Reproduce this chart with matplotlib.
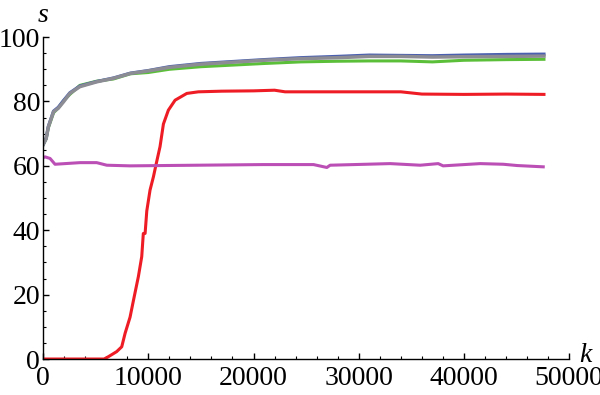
#Program to redraw the s versus k line chart.
import matplotlib
matplotlib.use("Agg")
import matplotlib.pyplot as plt
from matplotlib.ticker import MultipleLocator

#Shared steps for the three upper curves.
k_top = [0, 300, 500, 1000, 1450, 1950, 2550, 3500, 5100, 6700, 8300, 10000,
         12000, 15000, 18000, 21000, 24500, 28000, 31000, 34000, 37000,
         40000, 44000, 47600]
s_gray = [66.5, 68.5, 72.0, 76.8, 77.9, 79.9, 82.5, 84.6, 86.1, 87.2, 88.7,
          89.5, 90.6, 91.6, 92.2, 92.8, 93.3, 93.6, 94.0, 94.0, 93.8, 93.9,
          94.0, 94.1]
s_blue = [66.5, 68.6, 72.2, 77.0, 78.2, 80.3, 82.7, 84.8, 86.2, 87.3, 88.8,
          89.6, 90.8, 91.8, 92.4, 93.0, 93.6, 94.0, 94.4, 94.3, 94.2, 94.4,
          94.6, 94.7]
s_green = [66.5, 68.4, 71.8, 76.5, 78.0, 80.2, 82.2, 85.0, 86.3, 87.0, 88.6,
           89.0, 90.0, 90.8, 91.3, 91.8, 92.3, 92.5, 92.6, 92.6, 92.3, 92.8,
           93.0, 93.1]

#Red curve: flat at zero, then a steep rise.
k_red = [0, 5800, 6200, 7000, 7480, 7800, 8270, 8580, 9060, 9380, 9530, 9700,
         9860, 10170, 10490, 10800, 11120, 11440, 11910, 12550, 13660, 14760,
         17000, 20000, 22000, 23000, 27000, 34000, 36000, 40000, 44000, 47600]
s_red = [0, 0, 0.7, 2.3, 3.8, 8, 13, 18, 25.6, 31.8, 39, 39, 46, 52.5, 56.6,
         61.3, 66, 73, 77.3, 80.4, 82.5, 83.0, 83.2, 83.3, 83.5, 83.0, 83.0,
         83.0, 82.3, 82.2, 82.3, 82.2]

#Magenta curve around 60.
k_mag = [0, 190, 670, 1140, 3520, 5100, 6060, 8270, 14610, 20940, 25700,
         26970, 27280, 32990, 35840, 37550, 38020, 41540, 43730, 45060, 47530]
s_mag = [62.5, 62.8, 62.3, 60.5, 61, 61, 60.2, 60, 60.2, 60.4, 60.4, 59.5,
         60.2, 60.7, 60.2, 60.7, 60, 60.7, 60.5, 60.1, 59.7]

x_ticks = [0, 10000, 20000, 30000, 40000, 50000]
y_ticks = [0, 20, 40, 60, 80, 100]


def main():
    """Mainline logic for the chart."""
    plt.rcParams['font.family'] = ['Liberation Serif', 'DejaVu Serif']

    fig = plt.figure(figsize=(6, 3.95), dpi=100)
    ax = fig.add_axes([0.0717, 0.0911, 0.877, 0.815])

    ax.plot(k_red, s_red, color="#ee1c24", lw=2.2)
    ax.plot(k_mag, s_mag, color="#bb4fb6", lw=2.2)
    ax.plot(k_top, s_green, color="#5cbf3a", lw=2.2)
    ax.plot(k_top, s_blue, color="#4a5fb0", lw=2.3)
    ax.plot(k_top, s_gray, color="#8c8c94", lw=2.5)

    ax.set_xlim(0, 50000)
    ax.set_ylim(0, 100)
    ax.set_xticks(x_ticks)
    ax.set_yticks(y_ticks)
    ax.xaxis.set_minor_locator(MultipleLocator(2000))
    ax.yaxis.set_minor_locator(MultipleLocator(5))

    #Only the left and bottom spines, ticks pointing in.
    for side in ("top", "right"):
        ax.spines[side].set_visible(False)
    for side in ("left", "bottom"):
        ax.spines[side].set_linewidth(1.0)
    ax.tick_params(which="major", direction="in", length=4.5, width=1.0,
                   labelsize=20)
    ax.tick_params(which="minor", direction="in", length=2.5, width=0.8)
    ax.tick_params(axis="x", pad=5)
    ax.tick_params(axis="y", pad=2)

    #Axis names at the ends of the axes.
    fig.text(43 / 600, 1 - 15 / 395, "s", fontsize=20, style="italic",
             ha="center", va="center")
    fig.text(585 / 600, 1 - 355 / 395, "k", fontsize=20, style="italic",
             ha="center", va="center")

    fig.savefig("out.png", dpi=100)


if __name__ == '__main__':
    main()
